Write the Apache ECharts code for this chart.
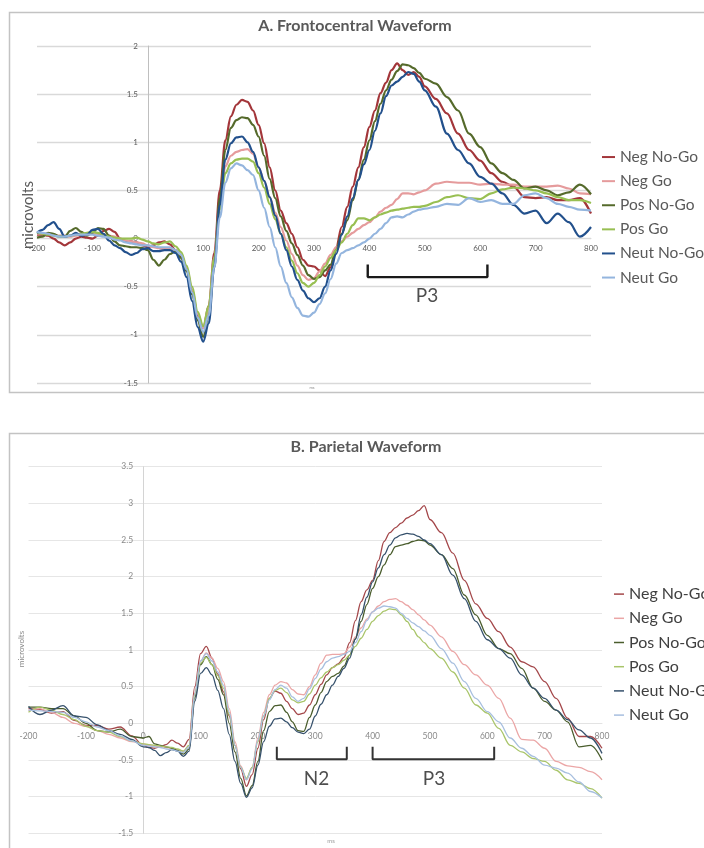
<!DOCTYPE html>
<html><head><meta charset="utf-8">
<script src="https://cdn.jsdelivr.net/npm/echarts@6/dist/echarts.min.js"></script>
<style>html,body{margin:0;padding:0;background:#fff}#c{width:704px;height:848px}</style>
</head><body><div id="c"></div>
<script>
// ---------- shared ----------
const seriesNames = ['Neg No-Go','Neg Go','Pos No-Go','Pos Go','Neut No-Go','Neut Go'];
const xTicks = [-200,-100,0,100,200,300,400,500,600,700,800];
const yTicksA = [-1.5,-1,-0.5,0,0.5,1,1.5,2];
const yTicksB = [-1.5,-1,-0.5,0,0.5,1,1.5,2,2.5,3,3.5];

// ---------- A. Frontocentral (ms, microvolts) ----------
const timesA = [-200,-190,-180,-170,-160,-150,-140,-130,-120,-110,
 -100,-90,-80,-70,-60,-50,-40,-30,-20,-10,
 0,10,20,30,40,50,60,70,80,90,
 100,110,120,130,140,150,160,170,180,190,
 200,210,220,230,240,250,260,270,280,290,
 300,310,320,330,340,350,360,370,380,390,
 400,410,420,430,440,450,460,470,480,490,
 500,520,540,560,580,600,620,640,660,680,
 700,720,740,760,780,800];
const fcNegNoGo = [0.04,0.04,0.03,0.00,-0.04,-0.07,-0.04,0.00,0.02,0.01,
 0.00,0.03,0.08,0.10,0.07,0.00,-0.03,-0.03,-0.04,-0.07,
 -0.09,-0.07,-0.04,-0.03,-0.06,-0.12,-0.19,-0.32,-0.55,-0.80,
 -0.93,-0.70,-0.15,0.50,1.02,1.27,1.39,1.44,1.42,1.33,
 1.18,0.99,0.74,0.50,0.29,0.16,0.05,-0.09,-0.22,-0.28,
 -0.29,-0.33,-0.39,-0.30,-0.09,0.12,0.33,0.54,0.74,0.95,
 1.16,1.33,1.51,1.62,1.75,1.82,1.75,1.70,1.73,1.68,
 1.58,1.45,1.30,1.09,0.92,0.81,0.68,0.59,0.54,0.43,
 0.42,0.43,0.40,0.40,0.42,0.26];
const fcNegGo = [0.05,0.05,0.05,0.04,0.03,0.03,0.02,0.03,0.04,0.05,
 0.05,0.05,0.04,0.03,0.02,0.00,-0.02,-0.03,-0.04,-0.05,
 -0.07,-0.09,-0.10,-0.11,-0.11,-0.12,-0.17,-0.30,-0.53,-0.78,
 -0.93,-0.72,-0.20,0.35,0.75,0.86,0.90,0.92,0.93,0.88,
 0.74,0.60,0.43,0.27,0.12,-0.02,-0.16,-0.28,-0.38,-0.43,
 -0.41,-0.34,-0.26,-0.17,-0.09,-0.03,0.02,0.06,0.10,0.14,
 0.17,0.22,0.28,0.32,0.35,0.41,0.47,0.47,0.46,0.48,
 0.50,0.57,0.59,0.58,0.58,0.56,0.57,0.56,0.56,0.54,
 0.54,0.54,0.55,0.52,0.47,0.46];
const fcPosNoGo = [0.01,0.02,0.06,0.05,0.02,0.02,0.08,0.11,0.07,0.03,
 0.06,0.11,0.10,0.03,-0.03,-0.07,-0.08,-0.09,-0.09,-0.10,
 -0.12,-0.22,-0.28,-0.22,-0.16,-0.13,-0.20,-0.34,-0.58,-0.85,
 -1.02,-0.80,-0.25,0.42,0.92,1.15,1.23,1.26,1.25,1.18,
 1.06,0.86,0.62,0.42,0.23,0.08,-0.05,-0.17,-0.28,-0.38,
 -0.42,-0.40,-0.33,-0.27,-0.12,0.05,0.19,0.40,0.61,0.82,
 1.02,1.22,1.40,1.54,1.65,1.74,1.81,1.80,1.77,1.72,
 1.66,1.61,1.47,1.33,1.09,0.95,0.78,0.68,0.61,0.52,
 0.54,0.50,0.45,0.48,0.56,0.46];
const fcPosGo = [0.06,0.05,0.04,0.03,0.02,0.02,0.03,0.04,0.05,0.06,
 0.07,0.06,0.04,0.02,0.01,0.00,0.00,0.00,0.01,-0.01,
 -0.03,-0.05,-0.06,-0.04,-0.03,-0.08,-0.14,-0.28,-0.50,-0.76,
 -0.91,-0.70,-0.20,0.30,0.68,0.78,0.82,0.83,0.83,0.80,
 0.68,0.53,0.36,0.20,0.05,-0.09,-0.23,-0.36,-0.46,-0.50,
 -0.46,-0.38,-0.29,-0.20,-0.12,-0.04,0.05,0.14,0.21,0.21,
 0.19,0.22,0.25,0.27,0.29,0.30,0.31,0.32,0.33,0.33,
 0.34,0.38,0.43,0.45,0.42,0.41,0.47,0.51,0.53,0.52,
 0.50,0.47,0.43,0.40,0.40,0.37];
const fcNeutNoGo = [0.06,0.09,0.14,0.17,0.10,0.02,0.03,0.06,0.03,0.04,
 0.09,0.10,0.05,-0.02,-0.07,-0.10,-0.14,-0.17,-0.15,-0.11,
 -0.10,-0.13,-0.13,-0.12,-0.12,-0.15,-0.24,-0.40,-0.65,-0.92,
 -1.07,-0.88,-0.30,0.35,0.82,0.99,1.05,1.06,1.00,0.90,
 0.74,0.60,0.43,0.24,0.05,-0.12,-0.29,-0.43,-0.54,-0.62,
 -0.66,-0.62,-0.50,-0.33,-0.16,0.04,0.23,0.42,0.61,0.77,
 0.92,1.12,1.30,1.48,1.59,1.63,1.68,1.73,1.71,1.63,
 1.54,1.37,1.09,0.92,0.78,0.64,0.57,0.47,0.35,0.26,
 0.29,0.16,0.26,0.17,0.02,0.12];
const fcNeutGo = [0.07,0.06,0.05,0.03,0.02,0.02,0.03,0.04,0.04,0.04,
 0.04,0.03,0.02,0.01,-0.01,-0.02,-0.04,-0.05,-0.06,-0.07,
 -0.07,-0.08,-0.09,-0.09,-0.09,-0.12,-0.17,-0.32,-0.56,-0.82,
 -0.97,-0.80,-0.30,0.22,0.58,0.73,0.78,0.76,0.71,0.66,
 0.50,0.32,0.12,-0.09,-0.29,-0.46,-0.61,-0.72,-0.80,-0.81,
 -0.77,-0.68,-0.57,-0.42,-0.26,-0.15,-0.12,-0.10,-0.07,-0.04,
 0.00,0.05,0.10,0.16,0.22,0.23,0.22,0.25,0.28,0.30,
 0.31,0.33,0.36,0.35,0.42,0.38,0.40,0.36,0.36,0.45,
 0.47,0.42,0.36,0.33,0.30,0.29];

// ---------- B. Parietal (ms, microvolts) ----------
const timesB = [-200,-180,-160,-140,-120,-100,-80,-60,-40,-20,
 0,10,20,30,40,50,60,70,80,90,
 100,110,120,130,140,150,160,170,180,190,
 200,210,220,230,240,250,260,270,280,290,
 300,310,320,330,340,350,360,370,380,390,
 400,410,420,430,440,450,460,470,480,490,
 500,520,540,560,580,600,620,640,660,680,
 700,720,740,760,780,800];
const pNegNoGo = [0.20,0.19,0.14,0.16,0.04,-0.03,-0.03,-0.08,-0.05,-0.17,
 -0.30,-0.33,-0.34,-0.32,-0.29,-0.23,-0.27,-0.32,-0.22,0.50,
 0.95,1.05,0.89,0.67,0.43,0.10,-0.30,-0.62,-0.86,-0.70,
 -0.34,0.05,0.34,0.44,0.41,0.30,0.20,0.12,0.14,0.25,
 0.39,0.53,0.66,0.76,0.81,0.90,1.10,1.40,1.66,1.82,
 1.95,2.22,2.48,2.60,2.67,2.73,2.80,2.84,2.90,2.97,
 2.78,2.60,2.32,1.95,1.63,1.43,1.25,1.04,0.84,0.77,
 0.57,0.34,0.07,-0.18,-0.18,-0.34];
const pNegGo = [0.17,0.20,0.15,0.08,0.00,-0.04,-0.10,-0.15,-0.20,-0.25,
 -0.28,-0.30,-0.31,-0.32,-0.33,-0.34,-0.36,-0.38,-0.30,0.42,
 0.85,0.96,0.89,0.75,0.57,0.20,-0.25,-0.58,-0.77,-0.60,
 -0.20,0.15,0.39,0.52,0.57,0.55,0.46,0.40,0.39,0.50,
 0.66,0.82,0.93,0.94,0.94,0.95,1.04,1.18,1.30,1.42,
 1.52,1.60,1.66,1.69,1.70,1.66,1.61,1.55,1.48,1.41,
 1.34,1.18,0.98,0.80,0.66,0.52,0.34,0.07,-0.22,-0.23,
 -0.34,-0.52,-0.58,-0.60,-0.66,-0.77];
const pPosNoGo = [0.22,0.22,0.20,0.20,0.10,0.00,-0.10,-0.12,-0.08,-0.18,
 -0.20,-0.18,-0.28,-0.30,-0.32,-0.34,-0.37,-0.42,-0.35,0.35,
 0.80,0.91,0.80,0.60,0.39,0.00,-0.39,-0.75,-0.99,-0.85,
 -0.52,-0.10,0.16,0.24,0.25,0.15,0.02,-0.10,-0.11,0.08,
 0.25,0.42,0.57,0.64,0.68,0.78,0.93,1.15,1.39,1.62,
 1.84,2.00,2.16,2.30,2.41,2.43,2.45,2.48,2.50,2.49,
 2.43,2.30,2.11,1.75,1.48,1.20,1.02,0.95,0.75,0.48,
 0.30,0.18,0.02,-0.32,-0.30,-0.50];
const pPosGo = [0.15,0.22,0.18,0.12,0.05,-0.04,-0.10,-0.12,-0.18,-0.24,
 -0.28,-0.29,-0.30,-0.31,-0.32,-0.33,-0.35,-0.38,-0.30,0.40,
 0.82,0.90,0.80,0.65,0.48,0.12,-0.30,-0.60,-0.75,-0.60,
 -0.25,0.10,0.34,0.45,0.48,0.42,0.32,0.28,0.30,0.40,
 0.52,0.62,0.70,0.76,0.80,0.86,0.93,1.05,1.16,1.28,
 1.39,1.47,1.53,1.56,1.55,1.48,1.39,1.28,1.18,1.10,
 1.02,0.89,0.70,0.48,0.25,0.14,-0.07,-0.30,-0.39,-0.48,
 -0.52,-0.64,-0.77,-0.82,-0.89,-1.02];
const pNeutNoGo = [0.23,0.12,0.18,0.24,0.10,0.08,-0.02,-0.10,-0.15,-0.22,
 -0.32,-0.33,-0.37,-0.44,-0.40,-0.36,-0.38,-0.45,-0.38,0.30,
 0.68,0.76,0.66,0.45,0.20,-0.15,-0.52,-0.82,-1.01,-0.88,
 -0.57,-0.25,-0.04,0.06,0.07,0.02,-0.06,-0.12,-0.14,-0.08,
 0.10,0.26,0.39,0.52,0.64,0.75,0.89,1.15,1.48,1.72,
 1.93,2.12,2.30,2.43,2.53,2.57,2.59,2.58,2.55,2.50,
 2.45,2.30,2.02,1.70,1.39,1.14,1.02,0.89,0.66,0.48,
 0.34,0.18,0.05,-0.09,-0.20,-0.41];
const pNeutGo = [0.18,0.17,0.16,0.15,0.08,0.02,-0.05,-0.10,-0.17,-0.24,
 -0.30,-0.31,-0.32,-0.33,-0.35,-0.36,-0.38,-0.40,-0.32,0.40,
 0.85,0.95,0.85,0.70,0.52,0.15,-0.30,-0.60,-0.77,-0.62,
 -0.23,0.10,0.32,0.46,0.52,0.48,0.36,0.30,0.34,0.47,
 0.61,0.74,0.84,0.89,0.91,0.94,0.98,1.10,1.25,1.40,
 1.52,1.57,1.60,1.59,1.57,1.50,1.43,1.37,1.32,1.26,
 1.20,1.02,0.82,0.57,0.34,0.16,0.02,-0.20,-0.34,-0.45,
 -0.57,-0.61,-0.68,-0.80,-0.93,-1.02];

// ---------- annotations (data coordinates) ----------
const bracketA_P3 = [[397,-0.27],[397,-0.40],[613,-0.40],[613,-0.27]];
const bracketB_N2 = [[233,-0.32],[233,-0.49],[355,-0.49],[355,-0.32]];
const bracketB_P3 = [[400,-0.32],[400,-0.49],[612,-0.49],[612,-0.32]];
const labelsA = [{name:'P3', value:[504,-0.60]}];
const labelsB = [{name:'N2', value:[302,-0.76]},{name:'P3', value:[507,-0.76]}];

const valuesA = [fcNegNoGo, fcNegGo, fcPosNoGo, fcPosGo, fcNeutNoGo, fcNeutGo];
const valuesB = [pNegNoGo, pNegGo, pPosNoGo, pPosGo, pNeutNoGo, pNeutGo];
const colorsA = ['#a3363a','#e59b9c','#556a2b','#98bf52','#22508c','#94b5de'];
const colorsB = ['#a4474a','#eba6a6','#4a5d2d','#a9c56a','#36516c','#a7bfdf'];

const FONT = 'Lato, "Liberation Sans", sans-serif';
const zip = (t, v) => t.map((x, i) => [x, v[i]]);

const gridA = {left: 37, top: 46, width: 554, height: 337};
const gridB = {left: 28.5, top: 466.7, width: 573.5, height: 366.6};
// place each axis where the other axis is zero (offset measured inward from the grid edge)
const zeroFrac = t => (0 - t[0]) / (t[t.length-1] - t[0]);

const series = [];
seriesNames.forEach((n, i) => {
  series.push({name: n, type: 'line', xAxisIndex: 0, yAxisIndex: 0,
    data: zip(timesA, valuesA[i]), showSymbol: false, symbol: 'none',
    smooth: 0.35, smoothMonotone: 'x', color: colorsA[i],
    lineStyle: {width: 2.2, color: colorsA[i]}});
});
seriesNames.forEach((n, i) => {
  series.push({name: 'B:' + n, type: 'line', xAxisIndex: 1, yAxisIndex: 1,
    data: zip(timesB, valuesB[i]), showSymbol: false, symbol: 'none',
    smooth: 0.35, smoothMonotone: 'x', color: colorsB[i],
    lineStyle: {width: 1.3, color: colorsB[i]}});
});
function bracket(data, gi, w, c) {
  return {type: 'line', xAxisIndex: gi, yAxisIndex: gi, data: data, symbol: 'none',
    silent: true, z: 4, lineStyle: {width: w, color: c}};
}
series.push(bracket(bracketA_P3, 0, 2.4, '#1a1a1a'));
series.push(bracket(bracketB_N2, 1, 2, '#333333'));
series.push(bracket(bracketB_P3, 1, 2, '#333333'));
function labs(data, gi) {
  return {type: 'scatter', xAxisIndex: gi, yAxisIndex: gi, data: data, symbolSize: 1,
    silent: true, z: 4, itemStyle: {color: 'rgba(0,0,0,0)'},
    label: {show: true, position: 'inside', formatter: '{b}', fontFamily: FONT,
      fontSize: 19, color: '#222222'}};
}
series.push(labs(labelsA, 0));
series.push(labs(labelsB, 1));

function xAx(gi, grid, yT, fs, col, mar, hideZero, lineCol) {
  return {gridIndex: gi, type: 'value', min: xTicks[0], max: xTicks[xTicks.length-1],
    interval: xTicks[1]-xTicks[0], position: 'bottom',
    offset: -grid.height * zeroFrac(yT),
    axisLine: {show: true, onZero: false, lineStyle: {color: lineCol, width: 1}},
    axisTick: {show: false}, splitLine: {show: false},
    axisLabel: {fontFamily: FONT, fontSize: fs, color: col, margin: mar,
      formatter: v => (hideZero && v === 0) ? '' : String(v)}};
}
function yAx(gi, grid, ticks, fs, col, gridCol, gw, axCol) {
  return {gridIndex: gi, type: 'value', min: ticks[0], max: ticks[ticks.length-1],
    interval: ticks[1]-ticks[0], position: 'left',
    offset: -grid.width * zeroFrac(xTicks),
    axisLine: {show: true, onZero: false, lineStyle: {color: axCol, width: 1}},
    axisTick: {show: false},
    splitLine: {show: true, lineStyle: {color: gridCol, width: gw}},
    axisLabel: {fontFamily: FONT, fontSize: fs, color: col, margin: 10}};
}

const option = {
  animation: false,
  backgroundColor: '#ffffff',
  grid: [gridA, gridB],
  xAxis: [xAx(0, gridA, yTicksA, 8, '#595959', 6, true, '#d9d9d9'),
          xAx(1, gridB, yTicksB, 8.5, '#8a8a8a', 8, false, '#e3e3e3')],
  yAxis: [yAx(0, gridA, yTicksA, 8, '#595959', '#d9d9d9', 1.4, '#bfbfbf'),
          yAx(1, gridB, yTicksB, 8.5, '#8a8a8a', '#e6e6e6', 1, '#d4d4d4')],
  legend: [
    {orient: 'vertical', left: 602, top: 145, padding: 0, itemGap: 0,
     itemWidth: 13, itemHeight: 2, icon: 'rect',
     data: seriesNames,
     textStyle: {fontFamily: FONT, fontSize: 15.5, color: '#595959', lineHeight: 24.1}},
    {orient: 'vertical', left: 614, top: 582, padding: 0, itemGap: 0,
     itemWidth: 10, itemHeight: 1.5, icon: 'rect',
     data: seriesNames.map(n => 'B:' + n),
     formatter: n => n.replace(/^B:/, ''),
     textStyle: {fontFamily: FONT, fontSize: 16, color: '#404040', lineHeight: 24.2}}
  ],
  graphic: [
    {type: 'rect', z: -10, silent: true, shape: {x: 9.5, y: 12.5, width: 720, height: 380},
     style: {fill: 'none', stroke: '#c3c3c3', lineWidth: 1.5}},
    {type: 'rect', z: -10, silent: true, shape: {x: 9.5, y: 433.5, width: 720, height: 440},
     style: {fill: 'none', stroke: '#c3c3c3', lineWidth: 1.5}},
    {type: 'text', x: 355, y: 26, silent: true,
     style: {text: 'A. Frontocentral Waveform', font: 'bold 16px ' + FONT, fill: '#595959',
       textAlign: 'center', textVerticalAlign: 'middle'}},
    {type: 'text', x: 366, y: 447, silent: true,
     style: {text: 'B. Parietal Waveform', font: 'bold 16px ' + FONT, fill: '#595959',
       textAlign: 'center', textVerticalAlign: 'middle'}},
    {type: 'text', x: 28, y: 215, rotation: Math.PI/2, silent: true,
     style: {text: 'microvolts', font: '15px ' + FONT, fill: '#595959',
       textAlign: 'center', textVerticalAlign: 'middle'}},
    {type: 'text', x: 21, y: 649, rotation: Math.PI/2, silent: true,
     style: {text: 'microvolts', font: '8px ' + FONT, fill: '#8a8a8a',
       textAlign: 'center', textVerticalAlign: 'middle'}},
    {type: 'text', x: 312, y: 388, silent: true,
     style: {text: 'ms', font: '4px ' + FONT, fill: '#8a8a8a',
       textAlign: 'center', textVerticalAlign: 'middle'}},
    {type: 'text', x: 331, y: 841, silent: true,
     style: {text: 'ms', font: '6px ' + FONT, fill: '#9a9a9a',
       textAlign: 'center', textVerticalAlign: 'middle'}}
  ],
  series: series
};
const chart = echarts.init(document.getElementById('c'), null, {renderer: 'canvas'});
chart.setOption(option);
</script>
</body></html>
